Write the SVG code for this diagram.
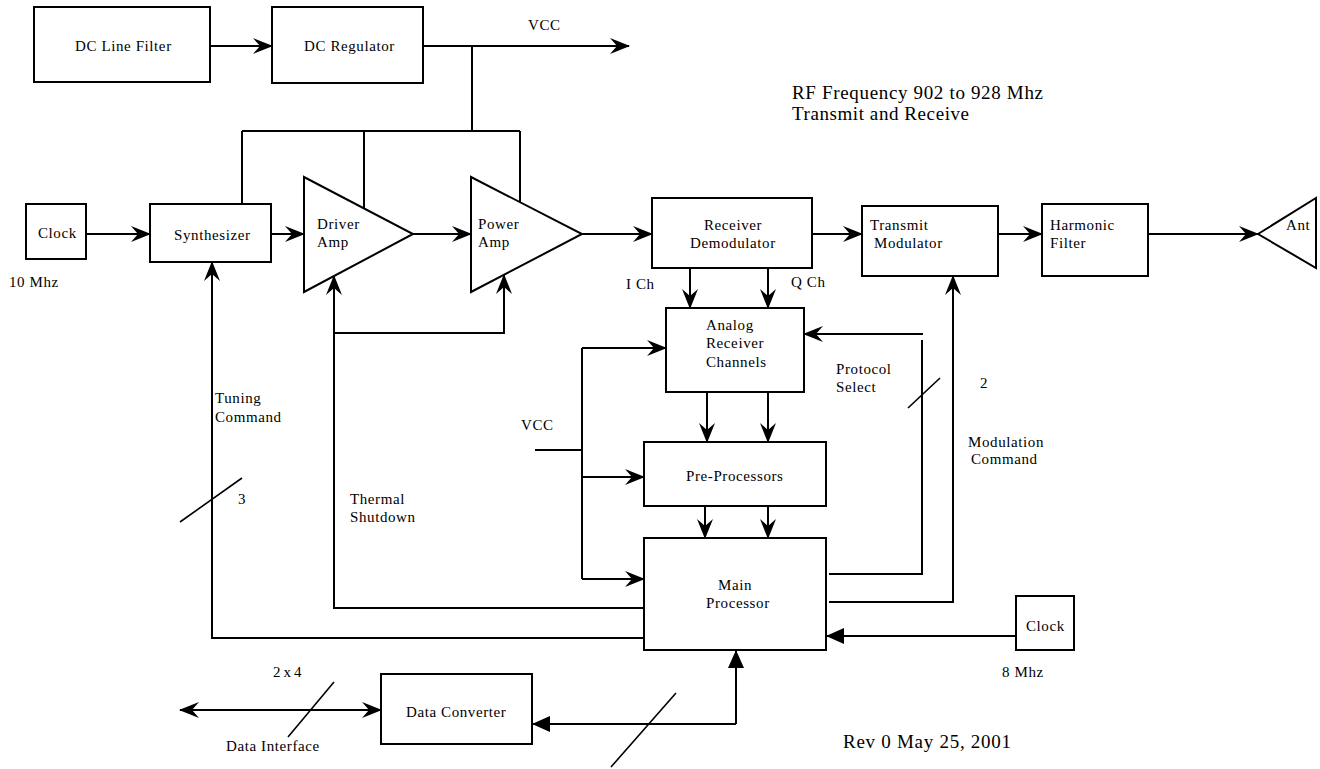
<svg xmlns="http://www.w3.org/2000/svg" width="1320" height="769" viewBox="0 0 1320 769">
<style>
.b{fill:#fff;stroke:#000;stroke-width:2}
.c{fill:none;stroke:#000;stroke-width:2}
.s{fill:none;stroke:#000;stroke-width:1.6}
text{font-family:"Liberation Serif","Times New Roman",serif;font-size:15px;letter-spacing:0.6px;fill:#000}
.big{font-size:19px;letter-spacing:0}
.wide{letter-spacing:3px}
</style>
<defs>
<marker id="a" markerUnits="userSpaceOnUse" markerWidth="20" markerHeight="16" refX="19" refY="8" orient="auto" viewBox="0 0 20 16">
<path d="M0,0 L20,8 L0,16 L7,8 Z" fill="#000"/>
</marker>
<marker id="as" markerUnits="userSpaceOnUse" markerWidth="20" markerHeight="16" refX="1" refY="8" orient="auto" viewBox="0 0 20 16">
<path d="M20,0 L0,8 L20,16 L13,8 Z" fill="#000"/>
</marker>
<marker id="f" markerUnits="userSpaceOnUse" markerWidth="18" markerHeight="16" refX="18" refY="8" orient="auto" viewBox="0 0 18 16">
<path d="M0,0 L18,8 L0,16 Z" fill="#000"/>
</marker>
</defs>

<g id="connectors">
<path class="c" d="M210,46 H272" marker-end="url(#a)"/>
<path class="c" d="M423,46 H629" marker-end="url(#a)"/>
<path class="c" d="M472,46 V131 M242,131 H520 M242,131 V204 M364,131 V208 M520,131 V202"/>
<path class="c" d="M86,234 H150" marker-end="url(#a)"/>
<path class="c" d="M271,234 H304" marker-end="url(#a)"/>
<path class="c" d="M413,234 H471" marker-end="url(#a)"/>
<path class="c" d="M582,234 H652" marker-end="url(#a)"/>
<path class="c" d="M812,234 H862" marker-end="url(#a)"/>
<path class="c" d="M998,234 H1042" marker-end="url(#a)"/>
<path class="c" d="M1148,234 H1258" marker-end="url(#a)"/>
<path class="c" d="M690,268 V308" marker-end="url(#a)"/>
<path class="c" d="M768,268 V308" marker-end="url(#a)"/>
<path class="c" d="M707,392 V442" marker-end="url(#a)"/>
<path class="c" d="M768,392 V442" marker-end="url(#a)"/>
<path class="c" d="M705,506 V538" marker-end="url(#a)"/>
<path class="c" d="M768,506 V538" marker-end="url(#a)"/>
<path class="c" d="M535,450 H582 M582,348 V579"/>
<path class="c" d="M582,348 H666" marker-end="url(#a)"/>
<path class="c" d="M582,477 H644" marker-end="url(#a)"/>
<path class="c" d="M582,579 H644" marker-end="url(#a)"/>
<path class="c" d="M644,608 H334 V276" marker-end="url(#a)"/>
<path class="c" d="M334,333 H504 V275" marker-end="url(#a)"/>
<path class="c" d="M644,638 H212 V262" marker-end="url(#a)"/>
<path class="c" d="M829,574 H922 V340"/>
<path class="c" d="M923,334 H804" marker-end="url(#a)"/>
<path class="c" d="M829,602 H953 V276" marker-end="url(#a)"/>
<path class="c" d="M1016,636 H826" marker-end="url(#f)"/>
<path class="c" d="M736,724 V650" marker-end="url(#f)"/>
<path class="c" d="M736,724 H532" marker-end="url(#f)"/>
<path class="c" d="M180,710 H381" marker-start="url(#as)" marker-end="url(#a)"/>
<path class="s" d="M180,522 L242,478 M908,408 L940,378 M288,737 L334,682 M611,767 L676,693"/>
</g>

<g id="dc-line-filter"><rect class="b" x="34" y="7" width="176" height="75"/><text x="75" y="51">DC Line Filter</text></g>
<g id="dc-regulator"><rect class="b" x="272" y="7" width="151" height="76"/><text x="304" y="51">DC Regulator</text></g>
<g id="clock-10"><rect class="b" x="26" y="204" width="60" height="55"/><text x="38" y="238">Clock</text></g>
<g id="synthesizer"><rect class="b" x="150" y="204" width="121" height="58"/><text x="174" y="240">Synthesizer</text></g>
<g id="driver-amp"><polygon class="b" points="304,177 304,292 413,234"/><text x="317" y="229">Driver</text><text x="317" y="247">Amp</text></g>
<g id="power-amp"><polygon class="b" points="471,177 471,292 582,234"/><text x="478" y="229">Power</text><text x="478" y="247">Amp</text></g>
<g id="receiver-demodulator"><rect class="b" x="652" y="198" width="160" height="70"/><text x="704" y="230">Receiver</text><text x="690" y="248">Demodulator</text></g>
<g id="transmit-modulator"><rect class="b" x="862" y="206" width="136" height="70"/><text x="870" y="230">Transmit</text><text x="874" y="248">Modulator</text></g>
<g id="harmonic-filter"><rect class="b" x="1042" y="204" width="106" height="72"/><text x="1050" y="230">Harmonic</text><text x="1050" y="248">Filter</text></g>
<g id="ant"><polygon class="b" points="1258,234 1316,198 1316,268"/><text x="1286" y="230">Ant</text></g>
<g id="analog-receiver-channels"><rect class="b" x="666" y="308" width="138" height="84"/><text x="706" y="330">Analog</text><text x="706" y="348">Receiver</text><text x="706" y="367">Channels</text></g>
<g id="pre-processors"><rect class="b" x="644" y="442" width="182" height="64"/><text x="686" y="481">Pre-Processors</text></g>
<g id="main-processor"><rect class="b" x="644" y="538" width="182" height="112"/><text x="718" y="590">Main</text><text x="706" y="608">Processor</text></g>
<g id="clock-8"><rect class="b" x="1016" y="596" width="58" height="54"/><text x="1026" y="631">Clock</text></g>
<g id="data-converter"><rect class="b" x="381" y="674" width="151" height="70"/><text x="406" y="717">Data Converter</text></g>

<g id="labels">
<text x="528" y="30">VCC</text>
<text class="big" x="792" y="99" textLength="251">RF Frequency 902 to 928 Mhz</text>
<text class="big" x="792" y="120" textLength="177">Transmit and Receive</text>
<text x="9" y="287">10 Mhz</text>
<text x="626" y="289">I Ch</text>
<text x="791" y="287">Q Ch</text>
<text x="836" y="374">Protocol</text>
<text x="836" y="392">Select</text>
<text x="980" y="388">2</text>
<text x="968" y="447">Modulation</text>
<text x="971" y="464">Command</text>
<text x="521" y="430">VCC</text>
<text x="215" y="403">Tuning</text>
<text x="215" y="422">Command</text>
<text x="238" y="504">3</text>
<text x="350" y="504">Thermal</text>
<text x="350" y="522">Shutdown</text>
<text class="wide" x="273" y="677">2x4</text>
<text x="226" y="751">Data Interface</text>
<text x="1002" y="677">8 Mhz</text>
<text class="big" x="843" y="748" textLength="168">Rev 0 May 25, 2001</text>
</g>
</svg>
